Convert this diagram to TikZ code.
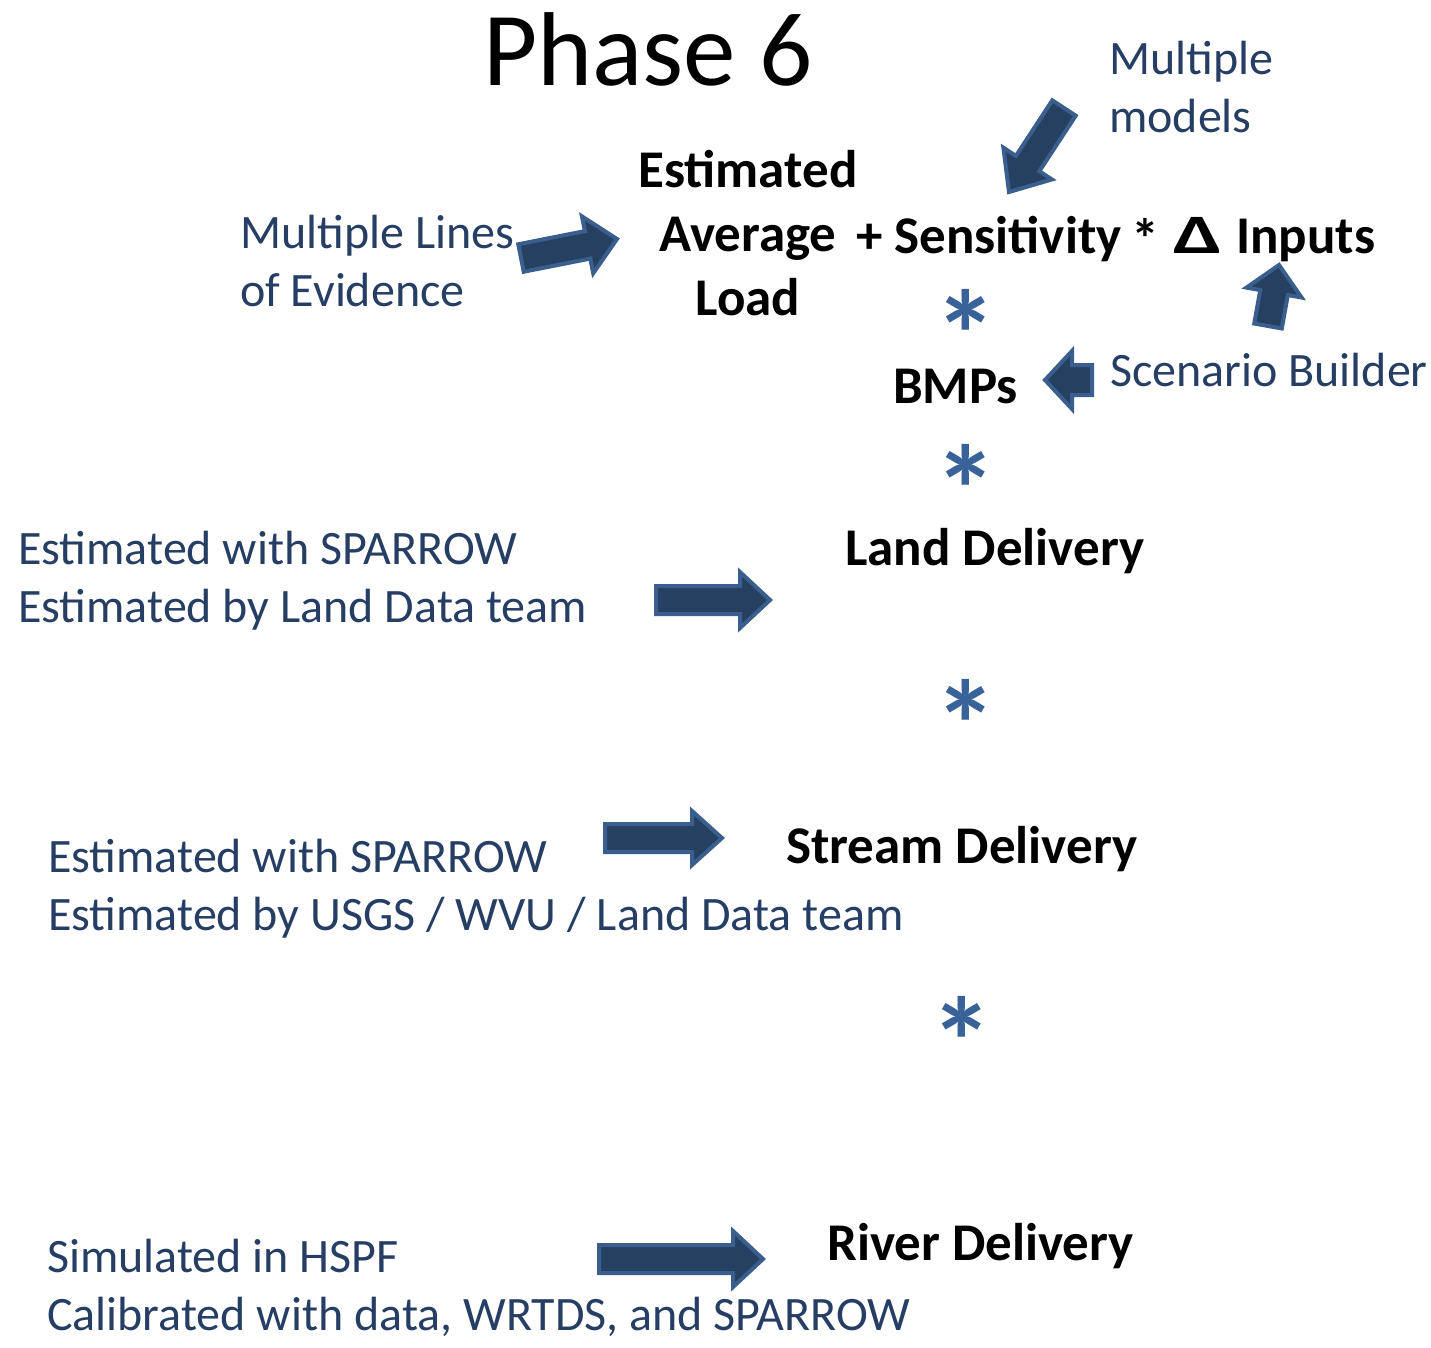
\documentclass[tikz,border=0pt]{standalone}
\usepackage{fontspec}
\usepackage{graphicx}
\setmainfont{Carlito}
\usetikzlibrary{calc}
\definecolor{labelblue}{RGB}{38,62,100}
\definecolor{starblue}{RGB}{56,98,152}
\definecolor{arrowfill}{RGB}{38,64,97}
\definecolor{arrowedge}{RGB}{58,95,142}

% block arrow: tail, tip, shaft width, head width, head length
\newcommand\blockarrow[5]{%
  \coordinate (ba-h) at ($(#2)!#5!(#1)$);
  \path[blockarrowstyle]
    ($(#1)!#3/2!90:(#2)$) -- ($(ba-h)!#3/2!90:(#2)$) -- ($(ba-h)!#4/2!90:(#2)$) -- (#2)
    -- ($(ba-h)!#4/2!-90:(#2)$) -- ($(ba-h)!#3/2!-90:(#2)$) -- ($(#1)!#3/2!-90:(#2)$) -- cycle;
}

\tikzset{
  blockarrowstyle/.style={fill=arrowfill, draw=arrowedge, line width=4pt, line join=miter},
  title/.style={font=\fontsize{105}{120}\selectfont, inner sep=0pt, anchor=base west},
  term/.style={font=\bfseries\fontsize{53}{64}\selectfont, inner sep=0pt, text=black},
  note/.style={font=\fontsize{48}{58}\selectfont, inner sep=0pt, text=labelblue, align=left, anchor=base west},
  star/.style={font=\bfseries\fontsize{126}{130}\selectfont, inner sep=0pt, text=starblue, anchor=base},
}

\begin{document}
\begin{tikzpicture}[x=1pt, y=-1pt]
\useasboundingbox (0,0) rectangle (1431,1347);

\node[title] (phase) at (483,85) {Phase 6};

% central equation (multi-line nodes are placed by their last baseline)
\node[term, align=center, anchor=base] (eal) at (748,315) {Estimated\\Average\\Load};
\node[term, anchor=base west] (sens) at (856,253)
  {+ Sensitivity\hspace{-2pt} \raisebox{-5pt}{\fontsize{56}{64}\selectfont*} \hspace{2pt}\scalebox{1.6}[1.05]{Δ}\hspace{2pt} Inputs};
\node[star] (s1) at (966,379) {*};
\node[term, anchor=base west] (bmps) at (893,403) {BMPs};
\node[star] (s2) at (966,534) {*};
\node[term, anchor=base west] (land) at (845,565) {Land Delivery};
\node[star] (s3) at (966,769) {*};
\node[term, anchor=base west] (stream) at (786,863) {Stream Delivery};
\node[star] (s4) at (962,1086) {*};
\node[term, anchor=base west] (river) at (827,1260) {River Delivery};

% source notes
\node[note] (models) at (1109,132) {Multiple\\models};
\node[note] (lines) at (240,306) {Multiple Lines\\of Evidence};
\node[note] (scen) at (1110,386) {Scenario Builder};
\node[note] (landsrc) at (18,622) {Estimated with SPARROW\\Estimated by Land Data team};
\node[note] (streamsrc) at (48,930) {Estimated with SPARROW\\Estimated by USGS / WVU / Land Data team};
\node[note] (riversrc) at (47,1330) {Simulated in HSPF\\Calibrated with data, WRTDS, and SPARROW};

% arrow ends
\coordinate (a1t) at (521,258);  \coordinate (a1h) at (617,239);
\coordinate (a2t) at (1064,108); \coordinate (a2h) at (1009,192);
\coordinate (a3t) at (1268,326); \coordinate (a3h) at (1279,265);
\coordinate (a4t) at (1092,380); \coordinate (a4h) at (1045,380);
\coordinate (a5t) at (656,600);  \coordinate (a5h) at (770,600);
\coordinate (a6t) at (605,838);  \coordinate (a6h) at (722,838);
\coordinate (a7t) at (599,1259); \coordinate (a7h) at (763,1259);

\blockarrow{a1t}{a1h}{28pt}{58pt}{30pt}
\blockarrow{a2t}{a2h}{28pt}{58pt}{34pt}
\blockarrow{a3t}{a3h}{28pt}{56pt}{28pt}
\blockarrow{a4t}{a4h}{30pt}{58pt}{27pt}
\blockarrow{a5t}{a5h}{28pt}{56pt}{30pt}
\blockarrow{a6t}{a6h}{28pt}{54pt}{30pt}
\blockarrow{a7t}{a7h}{28pt}{56pt}{30pt}
\end{tikzpicture}
\end{document}
